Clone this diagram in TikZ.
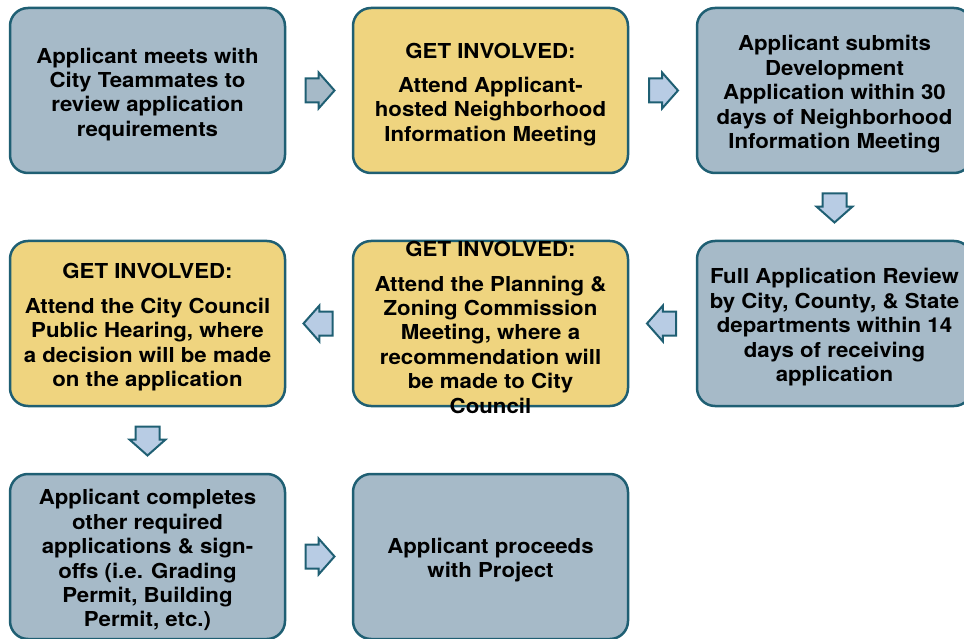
\documentclass[tikz,border=0pt]{standalone}
\usepackage{fontspec}
\setmainfont{TeX Gyre Heros}[FakeStretch=1.08]
\usetikzlibrary{calc}
\usetikzlibrary{shapes.arrows}
\definecolor{edgeteal}{HTML}{1F5F73}
\definecolor{boxgray}{HTML}{A6BAC8}
\definecolor{boxyellow}{HTML}{EFD47F}
\definecolor{arrowblue}{HTML}{B8CCE4}
\newcommand{\boxstrut}{\rule{0pt}{23pt}}

\begin{document}
\begin{tikzpicture}[x=1pt, y=-1pt,
    graybox/.style={draw=edgeteal, line width=2.5pt, fill=boxgray, rounded corners=18pt, minimum width=275pt, minimum height=165pt, align=center, inner xsep=0pt, inner ysep=-10pt, font=\fontsize{20.6}{24.4}\selectfont\bfseries},
    yellowbox/.style={graybox, fill=boxyellow},
    blockarrow/.style={single arrow, draw=edgeteal, line width=2pt, fill=arrowblue, inner sep=0pt, minimum width=0pt, minimum height=29pt, single arrow head extend=6pt, single arrow tip angle=97, text height=22pt, text depth=0pt, anchor=tail}]
      \clip (0,0) rectangle (964,639);

      \node[graybox] (1) at (147.5,90.5) {\boxstrut Applicant meets with\\City Teammates to\\review application\\requirements};
      \node[yellowbox] (2) at (490.5,90.5) {\boxstrut GET INVOLVED:\\[10pt]Attend Applicant-\\hosted Neighborhood\\Information Meeting};
      \node[graybox] (3) at (834.5,90.5) {\boxstrut Applicant submits\\Development\\Application within 30\\days of Neighborhood\\Information Meeting};
      \node[graybox] (4) at (834.5,323.5) {\boxstrut Full Application Review\\by City, County, \& State\\departments within 14\\days of receiving\\application};
      \node[yellowbox] (5) at (490.5,323.5) {\boxstrut GET INVOLVED:\\[10pt]Attend the Planning \&\\Zoning Commission\\Meeting, where a\\recommendation will\\be made to City\\Council};
      \node[yellowbox] (6) at (147.5,323.5) {\boxstrut GET INVOLVED:\\[10pt]Attend the City Council\\Public Hearing, where\\a decision will be made\\on the application};
      \node[graybox] (7) at (147.5,556.5) {\boxstrut Applicant completes\\other required\\applications \& sign-\\offs (i.e. Grading\\Permit, Building\\Permit, etc.)};
      \node[graybox] (8) at (490.5,556.5) {\boxstrut Applicant proceeds\\with Project};

      \node[blockarrow, fill=boxgray] (a12) at ($(1.east)!0.5!(2.west)+(-14.5,0)$) {};
      \node[blockarrow] (a23) at ($(2.east)!0.5!(3.west)+(-14.5,0)$) {};
      \node[blockarrow, rotate=-90] (a34) at ($(3.south)!0.5!(4.north)+(0,-14.5)$) {};
      \node[blockarrow, rotate=180] (a45) at ($(4.west)!0.5!(5.east)+(14.5,0)$) {};
      \node[blockarrow, rotate=180] (a56) at ($(5.west)!0.5!(6.east)+(14.5,0)$) {};
      \node[blockarrow, rotate=-90] (a67) at ($(6.south)!0.5!(7.north)+(0,-14.5)$) {};
      \node[blockarrow] (a78) at ($(7.east)!0.5!(8.west)+(-14.5,0)$) {};
    \end{tikzpicture}
\end{document}
